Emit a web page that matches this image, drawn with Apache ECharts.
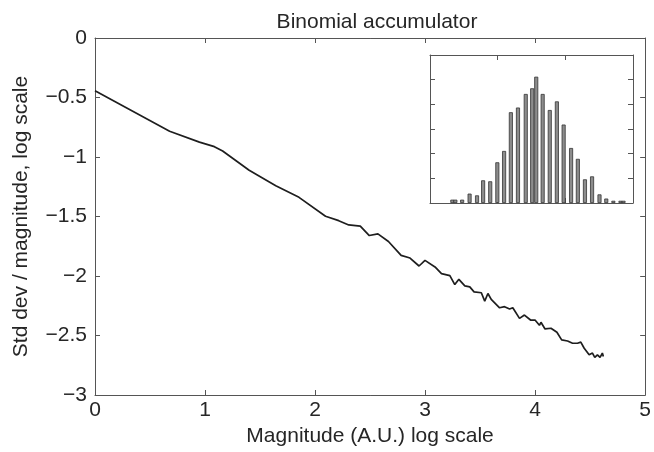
<!DOCTYPE html>
<html>
<head>
<meta charset="utf-8">
<script src="https://cdn.jsdelivr.net/npm/echarts@6/dist/echarts.min.js"></script>
<style>
  html, body { margin: 0; padding: 0; background: #fff; }
  #chart { width: 654px; height: 452px; }
</style>
</head>
<body>
<div id="chart"></div>
<script>
// main curve: log magnitude vs log (std dev / magnitude)
const curveX = [0, 0.678, 0.949, 1.085, 1.160, 1.401, 1.643, 1.854, 2.095, 2.215, 2.306, 2.411, 2.493, 2.571,
  2.667, 2.782, 2.863, 2.945, 2.999, 3.090, 3.149, 3.225, 3.270, 3.307, 3.361, 3.406, 3.445, 3.511, 3.542,
  3.571, 3.601, 3.677, 3.722, 3.768, 3.797, 3.858, 3.903, 3.958, 3.999, 4.039, 4.053, 4.090, 4.144, 4.198,
  4.241, 4.295, 4.340, 4.385, 4.415, 4.446, 4.491, 4.521, 4.542, 4.566, 4.590, 4.611, 4.620];
const curveY = [-0.443, -0.783, -0.875, -0.913, -0.950, -1.111, -1.242, -1.339, -1.498, -1.535, -1.571, -1.581,
  -1.660, -1.646, -1.710, -1.827, -1.849, -1.916, -1.869, -1.924, -1.980, -1.997, -2.072, -2.028, -2.083,
  -2.091, -2.133, -2.141, -2.211, -2.147, -2.197, -2.267, -2.258, -2.278, -2.267, -2.356, -2.328, -2.370,
  -2.370, -2.414, -2.389, -2.445, -2.439, -2.473, -2.537, -2.546, -2.565, -2.565, -2.556, -2.607, -2.662,
  -2.648, -2.684, -2.662, -2.684, -2.648, -2.676];

// inset histogram
const binX = [6.6, 7.5, 9.5, 11.7, 13.9, 15.7, 17.8, 19.9, 21.9, 23.9, 26.0, 28.3, 30.2, 31.4, 33.3,
  35.4, 37.5, 39.5, 41.7, 43.7, 45.8, 47.9, 50.1, 52.1, 54.2, 56.3, 57.2];
const binCount = [1.35, 1.35, 1.35, 3.8, 3.1, 9.2, 8.8, 16.5, 21.1, 36.8, 38.7, 44.2, 46.5, 51.2, 44.2,
  37.7, 41.2, 31.8, 22.3, 17.9, 9.6, 10.8, 3.5, 1.8, 0.9, 0.9, 0.9];

const font = 'Liberation Sans, Arial, sans-serif';
const fs = 21;
const txt = '#262626';
const ax = '#555';

const chart = echarts.init(document.getElementById('chart'));

function frameAxis(extra) {
  return Object.assign({
    axisLine: { show: true, onZero: false, lineStyle: { color: ax, width: 1 } },
    axisTick: { show: true, inside: true, length: 5, lineStyle: { color: ax } },
    splitLine: { show: false },
    axisLabel: { show: false }
  }, extra);
}

const minus = v => String(v).replace('-', '\u2212');

chart.setOption({
  animation: false,
  backgroundColor: '#fff',
  title: {
    text: 'Binomial accumulator',
    left: 372, top: 7, textAlign: 'center',
    textStyle: { fontFamily: font, fontSize: fs, fontWeight: 'normal', color: txt }
  },
  grid: [
    { left: 95, right: 6, top: 38, bottom: 55 },
    { left: 430, top: 55, width: 203, height: 148, show: true, backgroundColor: '#fff', borderWidth: 0 }
  ],
  xAxis: [
    frameAxis({
      type: 'value', gridIndex: 0, min: 0, max: 5, interval: 1,
      axisLabel: { show: true, margin: 5, fontFamily: font, fontSize: fs, color: txt },
      name: 'Magnitude (A.U.) log scale', nameLocation: 'middle', nameGap: 31,
      nameTextStyle: { fontFamily: font, fontSize: fs, color: txt }
    }),
    frameAxis({ type: 'value', gridIndex: 0, min: 0, max: 5, interval: 1, position: 'top' }),
    frameAxis({ type: 'value', gridIndex: 1, min: 0, max: 60, interval: 20 }),
    frameAxis({ type: 'value', gridIndex: 1, min: 0, max: 60, interval: 20, position: 'top' })
  ],
  yAxis: [
    frameAxis({
      type: 'value', gridIndex: 0, min: -3, max: 0, interval: 0.5,
      axisLabel: { show: true, margin: 8, fontFamily: font, fontSize: fs, color: txt, formatter: minus },
      name: 'Std dev / magnitude, log scale', nameLocation: 'middle', nameGap: 63,
      nameTextStyle: { fontFamily: font, fontSize: fs, color: txt }
    }),
    frameAxis({ type: 'value', gridIndex: 0, min: -3, max: 0, interval: 0.5, position: 'right' }),
    frameAxis({ type: 'value', gridIndex: 1, min: 0, max: 60, interval: 10 }),
    frameAxis({ type: 'value', gridIndex: 1, min: 0, max: 60, interval: 10, position: 'right' })
  ],
  series: [
    {
      type: 'line', xAxisIndex: 0, yAxisIndex: 0,
      data: curveX.map((x, i) => [x, curveY[i]]),
      showSymbol: false, symbol: 'none',
      lineStyle: { color: '#1e1e1e', width: 1.7 }
    },
    {
      type: 'bar', xAxisIndex: 2, yAxisIndex: 2,
      data: binX.map((x, i) => [x, binCount[i]]),
      barWidth: 4,
      itemStyle: { color: '#8c8c8c', borderColor: '#333', borderWidth: 0.8 }
    }
  ]
});
</script>
</body>
</html>
